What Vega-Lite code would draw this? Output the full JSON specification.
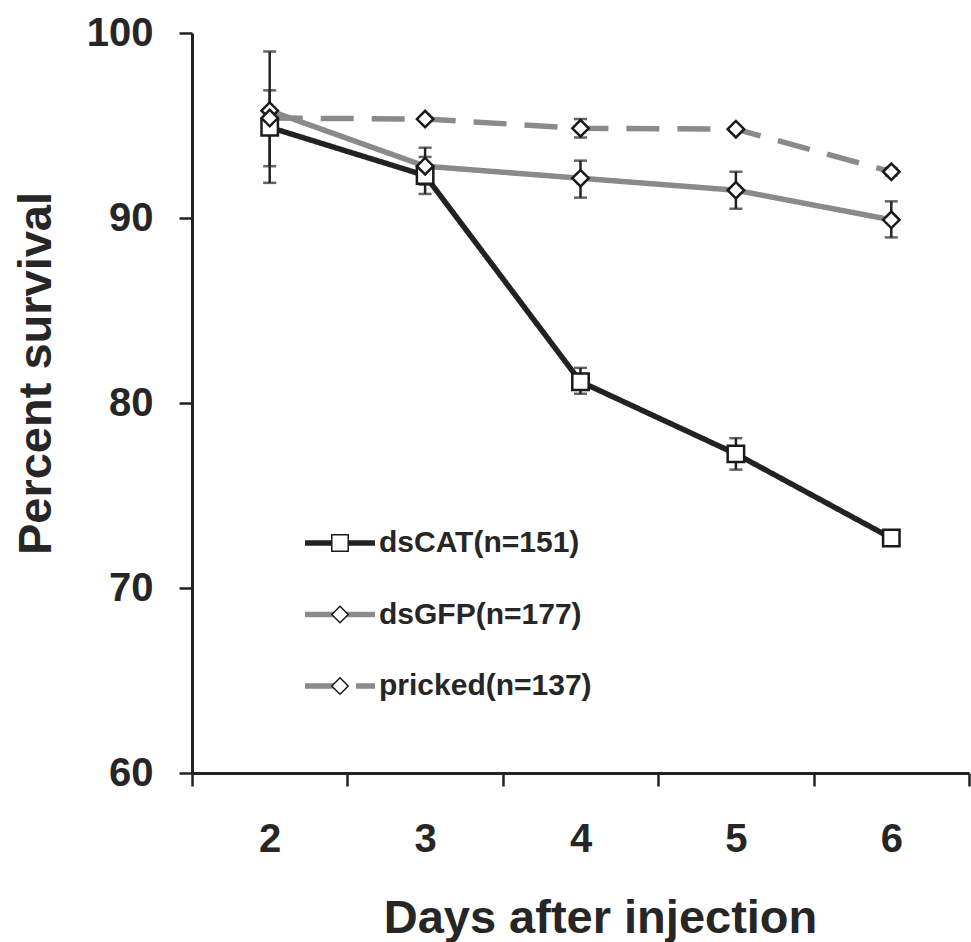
{
  "$schema": "https://vega.github.io/schema/vega-lite/v6.json",
  "autosize": {"type": "none"},
  "padding": {"left": 192, "top": 33, "right": 2, "bottom": 169},
  "width": 777,
  "height": 740,
  "background": "white",
  "config": {
    "view": {"stroke": null},
    "font": "Liberation Sans",
    "axis": {
      "labelFont": "Liberation Sans",
      "labelFontWeight": "bold",
      "labelFontSize": 40,
      "labelColor": "#262626",
      "titleFont": "Liberation Sans",
      "titleFontWeight": "bold",
      "titleFontSize": 47,
      "titleColor": "#262626",
      "domainColor": "#222222",
      "domainWidth": 3,
      "tickColor": "#222222",
      "tickWidth": 2.5,
      "tickSize": 13,
      "grid": false
    }
  },
  "data": {
    "values": [
      {"day": 2, "series": "dsCAT(n=151)", "survival": 94.9, "lo": 92.8, "hi": 96.9},
      {"day": 3, "series": "dsCAT(n=151)", "survival": 92.3, "lo": 91.3, "hi": 93.3},
      {"day": 4, "series": "dsCAT(n=151)", "survival": 81.15, "lo": 80.5, "hi": 81.9},
      {"day": 5, "series": "dsCAT(n=151)", "survival": 77.25, "lo": 76.4, "hi": 78.1},
      {"day": 6, "series": "dsCAT(n=151)", "survival": 72.7, "lo": null, "hi": null},
      {"day": 2, "series": "dsGFP(n=177)", "survival": 95.8, "lo": null, "hi": null},
      {"day": 3, "series": "dsGFP(n=177)", "survival": 92.8, "lo": 91.8, "hi": 93.8},
      {"day": 4, "series": "dsGFP(n=177)", "survival": 92.15, "lo": 91.1, "hi": 93.1},
      {"day": 5, "series": "dsGFP(n=177)", "survival": 91.5, "lo": 90.5, "hi": 92.5},
      {"day": 6, "series": "dsGFP(n=177)", "survival": 89.9, "lo": 88.95, "hi": 90.9},
      {"day": 2, "series": "pricked(n=137)", "survival": 95.4, "lo": 91.9, "hi": 99.0},
      {"day": 3, "series": "pricked(n=137)", "survival": 95.35, "lo": null, "hi": null},
      {"day": 4, "series": "pricked(n=137)", "survival": 94.85, "lo": 94.35, "hi": 95.35},
      {"day": 5, "series": "pricked(n=137)", "survival": 94.8, "lo": null, "hi": null},
      {"day": 6, "series": "pricked(n=137)", "survival": 92.5, "lo": 92.3, "hi": 92.7}
    ]
  },
  "encoding": {
    "x": {
      "field": "day",
      "type": "ordinal",
      "bandPosition": 0.5,
      "scale": {"type": "band", "paddingInner": 0, "paddingOuter": 0},
      "axis": {
        "title": "Days after injection",
        "labelAngle": 0,
        "tickBand": "extent",
        "labelPadding": 33,
        "titlePadding": 36,
        "titleX": 408
      }
    }
  },
  "layer": [
    {
      "mark": {"type": "line", "strokeWidth": 5.5},
      "encoding": {
        "y": {
          "field": "survival",
          "type": "quantitative",
          "scale": {"domain": [60, 100], "nice": false, "zero": false},
          "axis": {
            "title": "Percent survival",
            "values": [60, 70, 80, 90, 100],
            "labelPadding": 26,
            "titlePadding": 26,
            "titleY": 340
          }
        },
        "color": {
          "field": "series",
          "type": "nominal",
          "scale": {
            "domain": ["dsCAT(n=151)", "dsGFP(n=177)", "pricked(n=137)"],
            "range": ["#222222", "#8a8a8a", "#8a8a8a"]
          },
          "legend": {
            "title": null,
            "orient": "none",
            "legendX": 133,
            "legendY": 495,
            "padding": 0,
            "symbolType": "M-5,0H5",
            "symbolSize": 196,
            "symbolStrokeWidth": 5.5,
            "labelOffset": 24,
            "labelLimit": 500,
            "labelFont": "Liberation Sans",
            "labelFontWeight": "bold",
            "labelFontSize": 30,
            "labelColor": "#262626",
            "rowPadding": 41.5
          }
        },
        "strokeDash": {
          "field": "series",
          "type": "nominal",
          "scale": {
            "domain": ["dsCAT(n=151)", "dsGFP(n=177)", "pricked(n=137)"],
            "range": [[1, 0], [1, 0], [33, 18]]
          }
        }
      }
    },
    {
      "mark": {"type": "rule", "strokeWidth": 2.5, "color": "#222222"},
      "encoding": {
        "y": {"field": "lo", "type": "quantitative"},
        "y2": {"field": "hi"}
      }
    },
    {
      "mark": {"type": "tick", "size": 13, "thickness": 2.5, "color": "#222222", "orient": "horizontal"},
      "encoding": {"y": {"field": "lo", "type": "quantitative"}}
    },
    {
      "mark": {"type": "tick", "size": 13, "thickness": 2.5, "color": "#222222", "orient": "horizontal"},
      "encoding": {"y": {"field": "hi", "type": "quantitative"}}
    },
    {
      "mark": {"type": "point", "filled": true, "fill": "white", "stroke": "#1a1a1a", "strokeWidth": 2.5, "size": 270, "opacity": 1},
      "encoding": {
        "y": {"field": "survival", "type": "quantitative"},
        "shape": {
          "field": "series",
          "type": "nominal",
          "scale": {"range": ["square", "diamond", "diamond"]},
          "legend": {
            "title": null,
            "orient": "none",
            "legendX": 133,
            "legendY": 495,
            "padding": 0,
            "symbolSize": 270,
            "labelOffset": 24,
            "labelLimit": 500,
            "labelFont": "Liberation Sans",
            "labelFontWeight": "bold",
            "labelFontSize": 30,
            "labelOpacity": 0,
            "rowPadding": 41.5,
            "encode": {
              "symbols": {
                "update": {
                  "fill": {"value": "white"},
                  "stroke": {"value": "#1a1a1a"},
                  "strokeWidth": {"value": 2.5},
                  "opacity": {"value": 1}
                }
              }
            }
          }
        }
      }
    }
  ]
}
